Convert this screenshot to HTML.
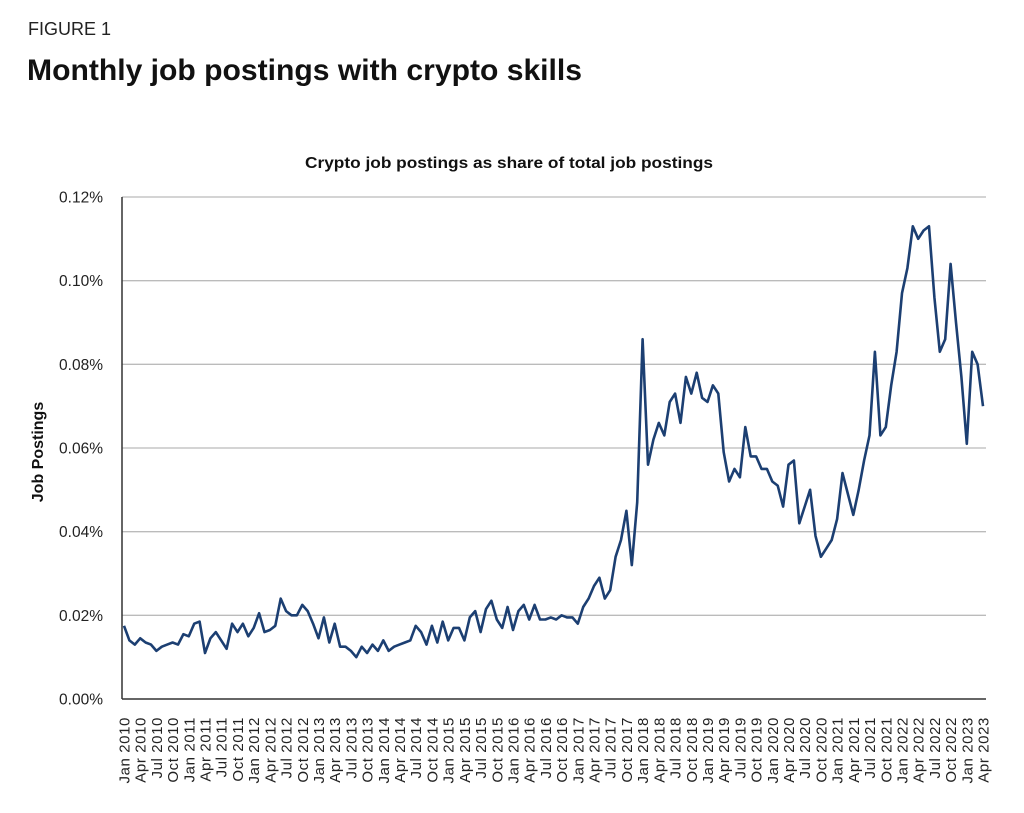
<!DOCTYPE html>
<html><head><meta charset="utf-8"><style>
body{margin:0;background:#fff;font-family:"Liberation Sans",sans-serif;}
svg{display:block}
</style></head><body>
<svg id="c" width="1024" height="813" xmlns="http://www.w3.org/2000/svg">
<text x="28" y="35" font-size="18" fill="#222">FIGURE 1</text>
<text x="27" y="80" font-size="30" font-weight="bold" fill="#111" textLength="555" lengthAdjust="spacingAndGlyphs">Monthly job postings with crypto skills</text>
<text x="509" y="168" font-size="15.5" font-weight="bold" text-anchor="middle" fill="#111" textLength="408" lengthAdjust="spacingAndGlyphs">Crypto job postings as share of total job postings</text>
<text transform="translate(43,452) rotate(-90)" font-size="16" font-weight="bold" text-anchor="middle" fill="#111">Job Postings</text>
<g id="grid"></g><g id="ylab"></g><g id="xlab"></g>
<line x1="122" y1="197" x2="122" y2="699" stroke="#333" stroke-width="1.5"/>
<line x1="122" y1="699" x2="986" y2="699" stroke="#333" stroke-width="1.5"/>
<path id="line" fill="none" stroke="#1c3f72" stroke-width="2.6" stroke-linejoin="round"/>
</svg>
<script>
const yTicks=[0,0.02,0.04,0.06,0.08,0.10,0.12];
const yTickLabels=["0.00%","0.02%","0.04%","0.06%","0.08%","0.10%","0.12%"];
const values=[
0.0175,0.014,0.013,0.0145,0.0135,0.013,0.0115,0.0125,0.013,0.0135,0.013,0.0155,
0.015,0.018,0.0185,0.011,0.0145,0.016,0.014,0.012,0.018,0.016,0.018,0.015,
0.017,0.0205,0.016,0.0165,0.0175,0.024,0.021,0.020,0.020,0.0225,0.021,0.018,
0.0145,0.0195,0.0135,0.018,0.0125,0.0125,0.0115,0.010,0.0125,0.011,0.013,0.0115,
0.014,0.0115,0.0125,0.013,0.0135,0.014,0.0175,0.016,0.013,0.0175,0.0135,0.0185,
0.014,0.017,0.017,0.014,0.0195,0.021,0.016,0.0215,0.0235,0.019,0.017,0.022,
0.0165,0.021,0.0225,0.019,0.0225,0.019,0.019,0.0195,0.019,0.020,0.0195,0.0195,
0.018,0.022,0.024,0.027,0.029,0.024,0.026,0.034,0.038,0.045,0.032,0.047,
0.086,0.056,0.062,0.066,0.063,0.071,0.073,0.066,0.077,0.073,0.078,0.072,
0.071,0.075,0.073,0.059,0.052,0.055,0.053,0.065,0.058,0.058,0.055,0.055,
0.052,0.051,0.046,0.056,0.057,0.042,0.046,0.050,0.039,0.034,0.036,0.038,
0.043,0.054,0.049,0.044,0.050,0.057,0.063,0.083,0.063,0.065,0.075,0.083,
0.097,0.103,0.113,0.110,0.112,0.113,0.096,0.083,0.086,0.104,0.090,0.077,
0.061,0.083,0.080,0.070];
const months=["Jan","Apr","Jul","Oct"];
const startYear=2010;
const NS="http://www.w3.org/2000/svg";
const x0=124,x1=983,yb=699,yt=197;
function xs(i){return x0+i*(x1-x0)/(values.length-1);}
function ys(v){return yb-(v/0.12)*(yb-yt);}
const grid=document.getElementById('grid'),yl=document.getElementById('ylab'),xl=document.getElementById('xlab');
yTicks.forEach((t,i)=>{
 if(t>0){const l=document.createElementNS(NS,'line');
 l.setAttribute('x1',122);l.setAttribute('x2',986);l.setAttribute('y1',ys(t));l.setAttribute('y2',ys(t));
 l.setAttribute('stroke','#bbb');l.setAttribute('stroke-width','1.3');
 
 
 grid.appendChild(l);}
 const tx=document.createElementNS(NS,'text');
 tx.setAttribute('x',103);tx.setAttribute('y',ys(t)+5.5);tx.setAttribute('text-anchor','end');
 tx.setAttribute('font-size','15.5');tx.setAttribute('fill','#222');tx.textContent=yTickLabels[i];
 
 
 yl.appendChild(tx);
});
for(let i=0;i<values.length;i+=3){
 const lab=months[(i/3)%4]+" "+(startYear+Math.floor(i/12));
 const tx=document.createElementNS(NS,'text');
 tx.setAttribute('transform',`translate(${xs(i)+5.5},717) rotate(-90)`);
 tx.setAttribute('text-anchor','end');tx.setAttribute('font-size','15');tx.setAttribute('fill','#222');
 tx.setAttribute('letter-spacing','0.6');
 tx.textContent=lab;
 
 
 xl.appendChild(tx);
}
document.getElementById('line').setAttribute('d',values.map((v,i)=>(i?'L':'M')+xs(i).toFixed(1)+','+ys(v).toFixed(1)).join(''));
</script>
</body></html>
